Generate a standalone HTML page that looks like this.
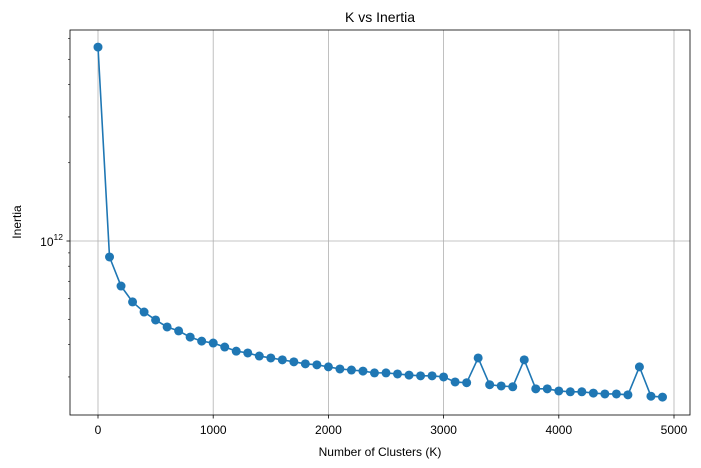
<!DOCTYPE html>
<html><head><meta charset="utf-8"><style>
body{margin:0;background:#fff}
svg{display:block;font-family:"Liberation Sans","DejaVu Sans",sans-serif}
</style></head><body>
<svg id="chart" width="701" height="468" viewBox="0 0 701 468">
<rect x="0" y="0" width="701" height="468" fill="#fff"/>
<g id="grid"></g>
<g id="series"></g>
<g id="axes"></g>
<text x="380" y="22" font-size="14" text-anchor="middle">K vs Inertia</text>
<text x="380" y="456" font-size="12" text-anchor="middle">Number of Clusters (K)</text>
<text x="21" y="222" font-size="12" text-anchor="middle" transform="rotate(-90 21 222)">Inertia</text>
</svg>
<script>
const kValues=[0,100,200,300,400,500,600,700,800,900,1000,1100,1200,1300,1400,1500,1600,1700,1800,1900,2000,2100,2200,2300,2400,2500,2600,2700,2800,2900,3000,3100,3200,3300,3400,3500,3600,3700,3800,3900,4000,4100,4200,4300,4400,4500,4600,4700,4800,4900];
const inertiaE12=[5.57,0.868,0.671,0.583,0.533,0.497,0.467,0.451,0.427,0.412,0.405,0.391,0.377,0.371,0.361,0.355,0.349,0.343,0.337,0.334,0.328,0.322,0.319,0.316,0.311,0.311,0.308,0.305,0.303,0.303,0.300,0.287,0.285,0.355,0.280,0.277,0.275,0.349,0.270,0.270,0.265,0.263,0.263,0.260,0.258,0.258,0.256,0.328,0.253,0.251];
const xTicks=[0,1000,2000,3000,4000,5000];
const yMinorTicks=[0.3,0.4,0.5,0.6,0.7,0.8,0.9,2,3,4,5,6];
const NS="http://www.w3.org/2000/svg";
const L=70,R=690,T=30,B=415;
function xs(v){return 98+v*0.1152;}
function ys(v){return 241-260*Math.log10(v);}
function mk(tag,attrs,parent){const e=document.createElementNS(NS,tag);for(const k in attrs)e.setAttribute(k,attrs[k]);parent.appendChild(e);return e;}
const grid=document.getElementById('grid'),axes=document.getElementById('axes'),series=document.getElementById('series');
xTicks.forEach(t=>{
  const x=xs(t);
  const g=mk('line',{x1:x,x2:x,y1:T,y2:B,stroke:'#b0b0b0','stroke-width':0.8},grid);
  
  
  const tk=mk('line',{x1:x,x2:x,y1:B,y2:B+3.5,stroke:'#000','stroke-width':0.8},axes);
  
  
  const tx=mk('text',{x:x,y:B+19,'font-size':12,'text-anchor':'middle'},axes);
  tx.textContent=t;
  
  
});
{
  const y=ys(1);
  const g=mk('line',{x1:L,x2:R,y1:y,y2:y,stroke:'#b0b0b0','stroke-width':0.8},grid);
  
  
  const tk=mk('line',{x1:L-3.5,x2:L,y1:y,y2:y,stroke:'#000','stroke-width':0.8},axes);
  
  
  const tx=mk('text',{x:L-7,y:y+5,'font-size':12,'text-anchor':'end'},axes);
  tx.innerHTML='10<tspan dy="-6" font-size="8.5">12</tspan>';
  
  
}
yMinorTicks.forEach(v=>{
  const y=ys(v);
  const tk=mk('line',{x1:L-2,x2:L,y1:y,y2:y,stroke:'#000','stroke-width':0.6},axes);
  
  
});
const fr=mk('rect',{x:L,y:T,width:R-L,height:B-T,fill:'none',stroke:'#000','stroke-width':0.8},axes);


const pts=kValues.map((k,i)=>xs(k)+','+ys(inertiaE12[i])).join(' ');
const pl=mk('polyline',{points:pts,fill:'none',stroke:'#1f77b4','stroke-width':1.6},series);


kValues.forEach((k,i)=>{
  const c=mk('circle',{cx:xs(k),cy:ys(inertiaE12[i]),r:4.5,fill:'#1f77b4'},series);
  
  
});
</script>
</body></html>
